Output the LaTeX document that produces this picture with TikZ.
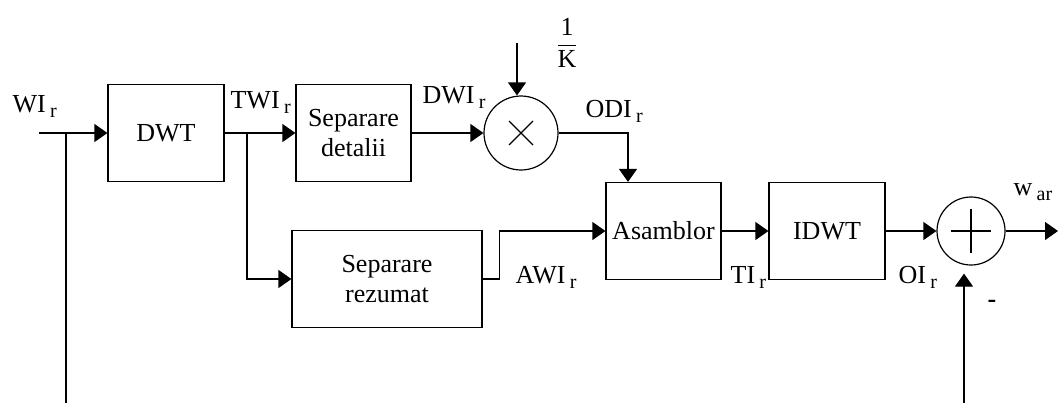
\documentclass[tikz,border=0pt]{standalone}
\usepackage{amsmath}
\usepackage{fontspec}
\setmainfont{Liberation Serif}
\usetikzlibrary{arrows.meta,positioning,calc}
\newcommand{\sgl}[2]{#1\,\raisebox{-2.5pt}{\fontsize{10}{12}\selectfont #2}}

\begin{document}
\begin{tikzpicture}[x=0.5pt,y=-0.5pt,line width=0.6pt,font=\fontsize{13}{15}\selectfont,
    blk/.style={draw,minimum height=48.5pt,inner sep=2pt,align=center},
    junc/.style={draw,circle,inner sep=0pt},
    sig/.style={-{Triangle[length=6.5pt,width=9pt]}},
    lbl/.style={anchor=base west,inner sep=0pt}]
  \useasboundingbox (0,0) rectangle (1058,403);
  \node[blk,minimum width=58pt] (dwt) at (166,133) {DWT};
  \node[blk,minimum width=57.5pt] (sepdet) at (353.5,133) {Separare\\detalii};
  \node[blk,minimum width=95pt] (seprez) at (387,279) {Separare\\rezumat};
  \node[junc,minimum size=37pt] (mul) at (521,133) {};
  \node[blk,minimum width=57.5pt] (asm) at (663.5,231) {Asamblor};
  \node[blk,minimum width=58pt] (idwt) at (827,231) {IDWT};
  \node[junc,minimum size=34pt] (sum) at (971,231) {};
  \coordinate (in) at (39,133);
  \coordinate (tap) at (66,133);
  \coordinate (tapend) at (66,403);
  \coordinate (split) at (247,133);
  \coordinate (kin) at (517,43);
  \coordinate (odi) at (628,133);
  \coordinate (out) at (1058,231);
  \coordinate (fb) at (964,403);

  \draw[sig] (in) -- (dwt.west);
  \draw (tap) -- (tapend);
  \draw[sig] (dwt) -- (sepdet);
  \draw[sig] (split) |- (seprez.west);
  \draw[sig] (sepdet) -- (mul);
  \draw[sig] (seprez.east) -- ++(17,0) |- (asm.west);
  \draw[sig] (kin) -- (kin |- mul.north);
  \draw[sig] (mul) -- (odi) -- (odi |- asm.north);
  \draw[sig] (asm) -- (idwt);
  \draw[sig] (idwt) -- (sum);
  \draw[sig] (sum) -- (out);
  \draw[sig,shorten >=4pt] (fb) -- (fb |- sum.south);
  \draw (mul.center) +(-12,-12) -- +(12,12) +(-12,12) -- +(12,-12);
  \draw (sum.center) +(-20,0) -- +(20,0) +(0,-22) -- +(0,22);

  \node[lbl] (wi) at (12,112) {\sgl{WI}{r}};
  \node[lbl] (twi) at (230,108) {\sgl{TWI}{r}};
  \node[lbl] (dwi) at (422,103) {\sgl{DWI}{r}};
  \node[lbl] (odilbl) at (585,117) {\sgl{ODI}{r}};
  \node[lbl] (awi) at (515,283) {\sgl{AWI}{r}};
  \node[lbl] (ti) at (730,283) {\sgl{TI}{r}};
  \node[lbl] (oi) at (898,283) {\sgl{OI}{r}};
  \node[lbl] (war) at (1013,195) {\sgl{w}{ar}};
  \node (k) at (567,43) {$\dfrac{\text{1}}{\text{K}}$};
  \node (minus) at (992,304) {\textbf{-}};
\end{tikzpicture}
\end{document}
